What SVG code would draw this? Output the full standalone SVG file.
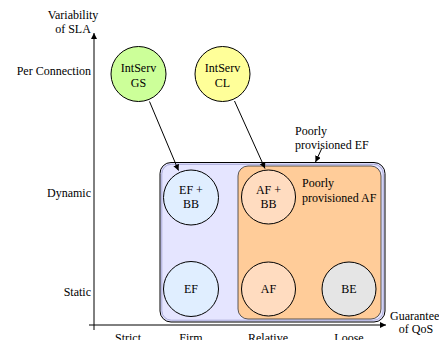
<svg xmlns="http://www.w3.org/2000/svg" width="439" height="340" viewBox="0 0 439 340" font-family="'Liberation Serif', 'DejaVu Serif', serif" font-size="12">
<defs>
<marker id="ah" markerWidth="8" markerHeight="8" refX="6" refY="3" orient="auto" markerUnits="userSpaceOnUse">
<path d="M0,0 L6,3 L0,6 Z" fill="#000"/>
</marker>
<style>
text{font-family:'Liberation Serif','DejaVu Serif',serif;font-size:12px;fill:#000}
.m{text-anchor:middle}
.e{text-anchor:end}
.c{stroke:#000;stroke-width:1}
.ln{stroke:#000;stroke-width:1;fill:none}
</style>
</defs>
<g id="axes">
<line x1="94" y1="330" x2="94" y2="33" class="ln" marker-end="url(#ah)"/>
<line x1="89" y1="325" x2="386" y2="325" class="ln" marker-end="url(#ah)"/>
<text class="m" x="73" y="19">Variability</text>
<text class="m" x="73" y="33">of SLA</text>
<text class="e" x="91" y="75">Per Connection</text>
<text class="e" x="91" y="197">Dynamic</text>
<text class="e" x="91" y="296">Static</text>
<text class="m" x="128" y="342">Strict</text>
<text class="m" x="191" y="342">Firm</text>
<text class="m" x="268" y="342">Relative</text>
<text class="m" x="349" y="342">Loose</text>
<text x="390" y="320">Guarantee</text>
<text class="m" x="416" y="333">of QoS</text>
</g>
<g id="poorlyEF">
<rect x="160" y="162.5" width="225" height="159.5" rx="11" fill="#e5e5ff" stroke="#000"/>
<rect x="161.8" y="164.3" width="221.4" height="155.9" rx="9.5" fill="none" stroke="#a8a8d8"/>
<text x="295" y="135">Poorly</text>
<text x="295" y="149">provisioned EF</text>
</g>
<g id="poorlyAF">
<rect x="238" y="166" width="143" height="153" rx="10" fill="#ffcc99" stroke="#333" stroke-width="0.8"/>
<text x="302" y="187">Poorly</text>
<text x="302" y="202">provisioned AF</text>
</g>
<g id="intservGS">
<circle cx="138.5" cy="74" r="27.5" fill="#ccff99" class="c"/>
<text class="m" x="138.5" y="72">IntServ</text>
<text class="m" x="138.5" y="86.5">GS</text>
</g>
<g id="intservCL">
<circle cx="222.5" cy="74" r="27.5" fill="#ffff99" class="c"/>
<text class="m" x="222.5" y="72">IntServ</text>
<text class="m" x="222.5" y="86.5">CL</text>
</g>
<g id="efbb">
<circle cx="191" cy="197.5" r="27.5" fill="#e0eeff" class="c"/>
<text class="m" x="191" y="193.5">EF +</text>
<text class="m" x="191" y="207.5">BB</text>
</g>
<g id="afbb">
<circle cx="268.5" cy="197" r="27" fill="#ffdcc0" class="c"/>
<text class="m" x="268.5" y="193.5">AF +</text>
<text class="m" x="268.5" y="207.5">BB</text>
</g>
<g id="ef">
<circle cx="191" cy="289" r="27.5" fill="#e0eeff" class="c"/>
<text class="m" x="191" y="293">EF</text>
</g>
<g id="af">
<circle cx="268.5" cy="289" r="27" fill="#ffdcc0" class="c"/>
<text class="m" x="268.5" y="293">AF</text>
</g>
<g id="be">
<circle cx="349" cy="289" r="27" fill="#e5e5e5" class="c"/>
<text class="m" x="349" y="293">BE</text>
</g>
<g id="connectors">
<line x1="149.5" y1="101.5" x2="178.5" y2="170.5" class="ln" marker-end="url(#ah)"/>
<line x1="234.5" y1="101" x2="265" y2="168.5" class="ln" marker-end="url(#ah)"/>
<line x1="321.5" y1="149" x2="315.5" y2="162" class="ln" marker-end="url(#ah)"/>
</g>
</svg>
